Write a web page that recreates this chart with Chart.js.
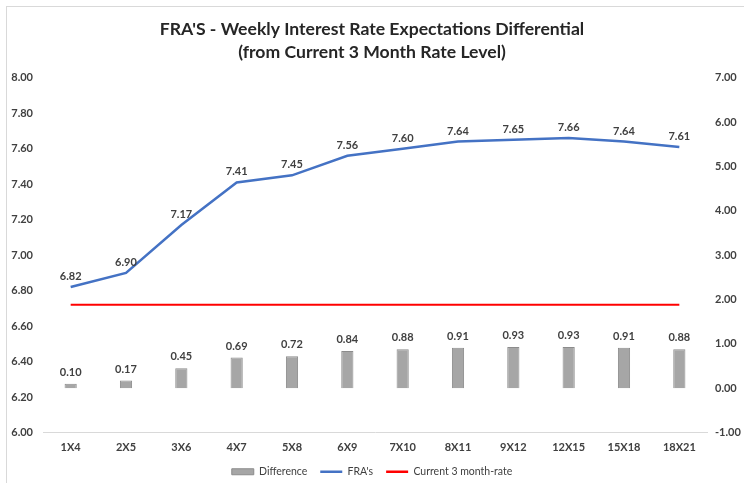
<!DOCTYPE html>
<html>
<head>
<meta charset="utf-8">
<script src="https://cdn.jsdelivr.net/npm/chart.js@4"></script>
<style>
  body { margin: 0; background: #fff; }
  #wrap { position: relative; width: 744px; height: 483px; }
  #frame { position: absolute; left: 6px; top: 6px; width: 760px; height: 500px;
           border-left: 1px solid #d9d9d9; border-top: 1px solid #d9d9d9; }
  canvas { position: absolute; left: 0; top: 0; }
</style>
</head>
<body>
<div id="wrap">
  <div id="frame"></div>
  <canvas id="fraChart" width="744" height="483"></canvas>
</div>
<script>
const categories = ['1X4', '2X5', '3X6', '4X7', '5X8', '6X9', '7X10', '8X11', '9X12', '12X15', '15X18', '18X21'];
const difference = [0.10, 0.17, 0.45, 0.69, 0.72, 0.84, 0.88, 0.91, 0.93, 0.93, 0.91, 0.88];
const fras = [6.82, 6.90, 7.17, 7.41, 7.45, 7.56, 7.60, 7.64, 7.65, 7.66, 7.64, 7.61];
const current3m = [6.72, 6.72, 6.72, 6.72, 6.72, 6.72, 6.72, 6.72, 6.72, 6.72, 6.72, 6.72];

const FONT = 'Lato, "Open Sans", sans-serif';
const TXT = '#404040';

// draws the value labels above bars and the FRA line
const valueLabels = {
  id: 'valueLabels',
  afterDatasetsDraw(chart) {
    const ctx = chart.ctx;
    ctx.save();
    ctx.font = 'bold 11px ' + FONT;
    ctx.fillStyle = TXT;
    ctx.textAlign = 'center';
    ctx.textBaseline = 'bottom';
    [0, 1].forEach(i => {
      const meta = chart.getDatasetMeta(i);
      const vals = chart.data.datasets[i].data;
      meta.data.forEach((el, j) => {
        const off = i === 0 ? 6 : 5;
        ctx.fillText(vals[j].toFixed(2), el.x, el.y - off);
      });
    });
    ctx.restore();
  }
};

new Chart(document.getElementById('fraChart'), {
  data: {
    labels: categories,
    datasets: [{
      type: 'bar',
      label: 'Difference',
      data: difference,
      yAxisID: 'yRight',
      backgroundColor: '#a6a6a6',
      borderColor: '#8c8c8c',
      borderWidth: 1,
      barPercentage: 0.22,
      categoryPercentage: 1,
      order: 3
    }, {
      type: 'line',
      label: "FRA's",
      data: fras,
      yAxisID: 'yLeft',
      borderColor: '#4472c4',
      borderWidth: 2.5,
      pointRadius: 0,
      tension: 0,
      order: 1
    }, {
      type: 'line',
      label: 'Current 3 month-rate',
      data: current3m,
      yAxisID: 'yLeft',
      borderColor: '#ff0000',
      borderWidth: 2,
      pointRadius: 0,
      order: 2
    }]
  },
  options: {
    responsive: false,
    animation: false,
    layout: { padding: { left: 0, right: 0, top: 0, bottom: -4 } },
    plugins: {
      title: {
        display: true,
        text: ["FRA'S - Weekly Interest Rate Expectations Differential", '(from Current 3 Month Rate Level)'],
        font: { family: FONT, size: 17.6, weight: 'bold', lineHeight: 1.3 },
        color: '#262626',
        padding: { top: 18, bottom: 14 }
      },
      legend: {
        position: 'bottom',
        labels: {
          usePointStyle: true,
          pointStyleWidth: 22,
          boxHeight: 6,
          color: TXT,
          font: { family: FONT, size: 10.5 },
          padding: 13,
          generateLabels(chart) {
            return chart.data.datasets.map((ds, i) => ({
              text: ds.label,
              datasetIndex: i,
              fillStyle: ds.type === 'bar' ? ds.backgroundColor : ds.borderColor,
              strokeStyle: ds.borderColor,
              lineWidth: ds.type === 'bar' ? 1 : 2.5,
              pointStyle: ds.type === 'bar' ? 'rect' : 'line',
              fontColor: TXT
            }));
          }
        }
      },
      tooltip: { enabled: false }
    },
    scales: {
      x: {
        grid: { display: false, drawTicks: false },
        border: { display: true, color: '#d9d9d9' },
        ticks: { color: TXT, font: { family: FONT, size: 11, weight: 'bold' }, padding: 8 },
        afterFit(scale) { scale.height = 21; }
      },
      yLeft: {
        position: 'left',
        min: 6, max: 8,
        grid: { display: false, drawTicks: false },
        border: { display: false },
        ticks: { stepSize: 0.2, padding: 10, color: TXT, font: { family: FONT, size: 11, weight: 'bold' },
                 callback: v => v.toFixed(2) },
        afterFit(scale) { scale.width = 43; }
      },
      yRight: {
        position: 'right',
        min: -1, max: 7,
        grid: { display: false, drawTicks: false },
        border: { display: false },
        ticks: { stepSize: 1, padding: 8, color: TXT, font: { family: FONT, size: 11, weight: 'bold' },
                 callback: v => v.toFixed(2) },
        afterFit(scale) { scale.width = 37; }
      }
    }
  },
  plugins: [valueLabels]
});
</script>
</body>
</html>
